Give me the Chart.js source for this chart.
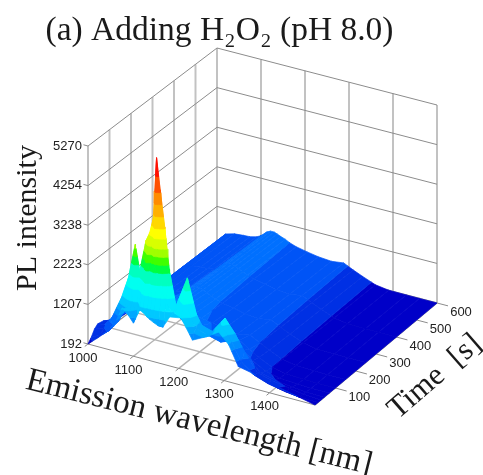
<!DOCTYPE html>
<html>
<head>
<meta charset="utf-8">
<style>
  html, body { margin: 0; padding: 0; background: #fff; }
  #wrap { width: 483px; height: 475px; }
</style>
<script src="https://cdn.jsdelivr.net/npm/chart.js@4/dist/chart.umd.min.js"></script>
</head>
<body>
<div id="wrap"><canvas id="chart" width="483" height="475"></canvas></div>
<script>
const wavelengths = [1000,1020,1040,1060,1075,1090,1100,1114,1122,1130,1137,1145,1155,1165,1180,1205,1230,1260,1288,1310,1331,1360,1390,1430,1460,1500];
const times = [0,15,30,45,70,100,150,250,400,600];

const pl0   = [192,400,620,930,1350,1190,1040,1420,1370,1290,1240,1190,1140,1140,1450,1500,1010,1190,1400,1140,650,580,480,370,295,192];
const pl15  = [300,420,600,900,1250,1500,1200,2000,2750,2300,2600,2400,2000,1700,1450,1900,1250,1150,1500,1150,700,450,330,240,200,192];
const pl30  = [450,520,900,1450,2000,2900,2250,3080,3300,3700,5270,4470,3550,2490,1600,2400,1300,1200,1630,1300,900,450,350,270,220,192];
const pl45  = [520,560,900,1300,1500,1700,1500,1800,2100,2700,3200,2800,2100,1600,1300,1700,1200,1050,1300,1050,700,380,300,240,205,192];
const pl70  = [490,580,800,950,1050,1100,1050,1200,1350,1500,1600,1500,1300,1150,1000,1150,850,760,900,700,500,320,240,210,195,192];
const pl100 = [380,560,720,820,880,950,950,1000,1060,1120,1150,1100,1000,950,880,880,740,680,760,600,450,290,220,200,192,192];
const pl150 = [250,580,680,740,770,810,860,960,1020,1030,1000,950,890,840,780,740,660,620,680,550,430,280,210,200,192,192];
const pl250 = [200,560,650,700,720,750,800,920,980,980,950,900,850,800,740,690,620,590,640,520,410,270,205,195,192,192];
const pl400 = [200,560,640,670,680,710,770,900,950,950,920,880,830,780,720,660,600,570,620,500,400,260,200,195,192,192];
const pl600 = [200,560,620,640,650,690,750,890,930,930,900,860,820,760,700,640,590,560,600,480,380,250,200,195,192,192];
const intensity = [pl0, pl15, pl30, pl45, pl70, pl100, pl150, pl250, pl400, pl600];

const zTicks = [192,1207,2223,3238,4254,5270];
const lambdaTicks = [1000,1100,1200,1300,1400];
const timeTicks = [100,200,300,400,500,600];

const bandLevels = [192,290,550,760,1000,1150,1300,1500,1800,2100,2400,2600,2800,3000,3250,3500,3800,4100,4400,4800,5270];
const bandColors = ['#0000c8','#0030e4','#0054f6','#0070ff','#008cff','#00a8ff','#00c8ff','#00e8ff','#00fff0','#00ffc0','#00ff40','#40ff00','#a0ff00','#d8ff00','#ffff00','#ffd800','#ffb000','#ff8c00','#ff5000','#ff1000'];

// corners of the floor in canvas units, the box is close to an affine one
const floorA = [88, 344], floorB = [315, 405], floorC = [437, 303], floorD = [217, 246];
const boxHeight = 198;
const titleH = 47.5;

function project(lambda, t, z) {
  const u = (lambda - 1000) / 500, v = t / 600;
  const x = (1-u)*(1-v)*floorA[0] + u*(1-v)*floorB[0] + u*v*floorC[0] + (1-u)*v*floorD[0];
  const y = (1-u)*(1-v)*floorA[1] + u*(1-v)*floorB[1] + u*v*floorC[1] + (1-u)*v*floorD[1];
  return { x: x, y: y - (z - 192) / 5078 * boxHeight };
}

function lineSet(points, color, width) {
  return { data: points, showLine: true, pointRadius: 0, borderColor: color, borderWidth: width, fill: false, clip: false };
}

function clipBand(poly, lo, hi) {
  const cut = (pts, keep, level) => {
    const out = [];
    pts.forEach((p, i) => {
      const q = pts[(i + 1) % pts.length];
      if (keep(p.z)) out.push(p);
      if (keep(p.z) !== keep(q.z)) {
        const f = (level - p.z) / (q.z - p.z);
        out.push({ x: p.x + (q.x - p.x) * f, y: p.y + (q.y - p.y) * f, z: level });
      }
    });
    return out;
  };
  return cut(cut(poly, z => z >= lo, lo), z => z <= hi, hi);
}

const gridSets = [];
const gridThick = '#c2c2c2', gridThin = '#8c8c8c', gridFloor = '#b4b4b4';
[0,100,200,300,400,500,600].forEach(t => {
  gridSets.push(lineSet([project(1000, t, 192), project(1000, t, 5270)], gridThick, 2));
  if (t > 0) gridSets.push(lineSet([project(1000, t, 192), project(1500, t, 192)], gridFloor, 1.4));
});
[1000,1100,1200,1300,1400,1500].forEach(l => {
  gridSets.push(lineSet([project(l, 600, 192), project(l, 600, 5270)], gridThick, 2));
  gridSets.push(lineSet([project(l, 0, 192), project(l, 600, 192)], gridFloor, 1.4));
});
zTicks.forEach(z => {
  gridSets.push(lineSet([project(990, 0, z), project(1000, 0, z), project(1000, 600, z), project(1500, 600, z)], gridThin, 1));
});
gridSets.push(lineSet([project(1000, 0, 192), project(1500, 0, 192), project(1500, 600, 192)], gridThin, 1));
lambdaTicks.forEach(l => gridSets.push(lineSet([project(l, 0, 192), project(l, -15, 192)], gridThin, 1)));
timeTicks.forEach(t => gridSets.push(lineSet([project(1500, t, 192), project(1525, t, 192)], gridThin, 1)));

// painter's order: far rows first, and low wavelength first inside a row
const surfaceSets = [];
for (let r = times.length - 2; r >= 0; r--) {
  for (let c = 0; c < wavelengths.length - 1; c++) {
    const corners = [[r, c], [r, c + 1], [r + 1, c + 1], [r + 1, c]].map(([i, j]) => {
      const z = intensity[i][j];
      const p = project(wavelengths[j], times[i], z);
      return { x: p.x, y: p.y, z: z };
    });
    bandColors.forEach((color, b) => {
      const poly = clipBand(corners, bandLevels[b], bandLevels[b + 1]);
      if (poly.length < 3) return;
      surfaceSets.push({
        data: poly.concat(poly[0]).map(p => ({ x: p.x, y: p.y })),
        showLine: true, pointRadius: 0, tension: 0,
        backgroundColor: color, borderColor: color, borderWidth: 0.7,
        fill: 'shape', clip: false
      });
    });
  }
}

const labelsPlugin = {
  id: 'boxLabels',
  afterDraw(chart) {
    const ctx = chart.ctx, sx = chart.scales.x, sy = chart.scales.y;
    const px = p => [sx.getPixelForValue(p.x), sy.getPixelForValue(p.y)];
    ctx.save();
    ctx.fillStyle = '#222';
    ctx.font = '13px "Liberation Sans"';
    ctx.textBaseline = 'middle';
    ctx.textAlign = 'right';
    zTicks.forEach(z => {
      const [x, y] = px(project(1000, 0, z));
      ctx.fillText(String(z), x - 6, y);
    });
    ctx.textAlign = 'center';
    lambdaTicks.forEach(l => {
      const [x, y] = px(project(l, 0, 192));
      ctx.fillText(String(l), x - 5, y + 14);
    });
    timeTicks.forEach(t => {
      const [x, y] = px(project(1500, t, 192));
      ctx.fillText(String(t), x + 24, y + 9);
    });
    ctx.fillStyle = '#1a1a1a';
    const rotated = (text, size, cx, cy, deg) => {
      ctx.save();
      ctx.font = size + 'px "Liberation Serif"';
      ctx.translate(cx, cy);
      ctx.rotate(deg * Math.PI / 180);
      ctx.fillText(text, 0, 0);
      ctx.restore();
    };
    rotated('PL intensity', 30, 28, 218, -90);
    rotated('Emission wavelength [nm]', 33, 199, 423, 14);
    rotated('Time  [s]', 31, 435, 377, -41);
    ctx.restore();
  }
};

new Chart(document.getElementById('chart'), {
  type: 'scatter',
  data: { datasets: gridSets.concat(surfaceSets).reverse() },
  plugins: [labelsPlugin],
  options: {
    responsive: false,
    animation: false,
    normalized: true,
    layout: { padding: { right: 44 } },
    plugins: {
      legend: { display: false },
      tooltip: { enabled: false },
      title: {
        display: true,
        text: '(a) Adding H₂O₂ (pH 8.0)',
        color: '#1a1a1a',
        font: { family: '"Liberation Serif"', size: 33.5, weight: 'normal', lineHeight: 1 },
        padding: { top: 14, bottom: 0 }
      }
    },
    scales: {
      x: { type: 'linear', display: false, min: 0, max: 439 },
      y: { type: 'linear', display: false, reverse: true, min: titleH, max: 475 }
    }
  }
});
</script>
</body>
</html>
